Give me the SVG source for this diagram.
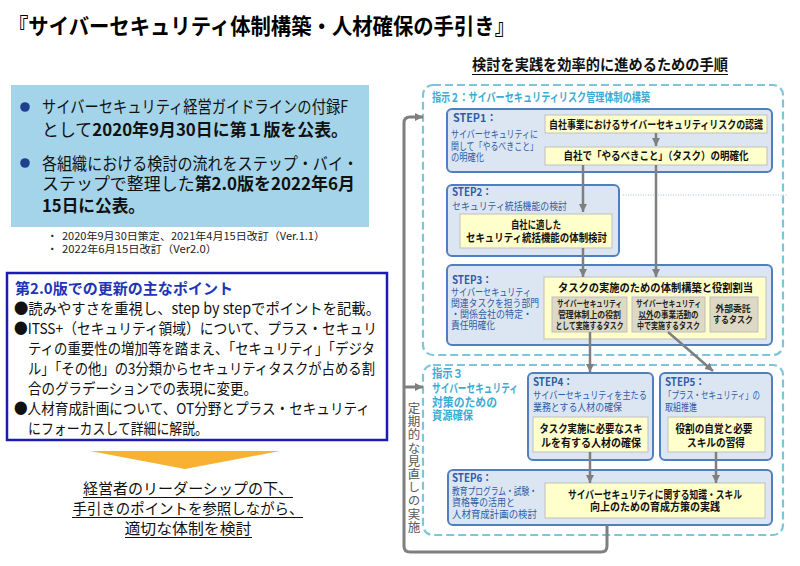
<svg xmlns="http://www.w3.org/2000/svg" width="800" height="566" viewBox="0 0 800 566">
<style>
text { font-family: "Noto Sans CJK JP", "Noto Sans", sans-serif; }
.b { font-weight: bold; }
.step { fill: #DCE6F2; stroke: #4F7FC0; stroke-width: 2; }
.yel { fill: #FFFFCC; stroke: #BFBFBF; stroke-width: 1; }
.tan { fill: #DDD9C4; stroke: #BFBFBF; stroke-width: 1; }
.dash { fill: none; stroke: #7DC6DA; stroke-width: 2.2; stroke-dasharray: 8 4; }
.conn { stroke: #7F7F7F; stroke-width: 2.5; fill: none; }
.loop { stroke: #7F7F7F; stroke-width: 3; fill: none; }
.sl { fill: #2E5DA6; font-size: 10.5px; }
.sh { fill: #2E5DA6; font-size: 11px; font-weight: bold; }
.yt { fill: #111; font-size: 11px; font-weight: bold; }
.tt { fill: #222; font-size: 9px; font-weight: bold; }
.sj { fill: #3AACD4; font-size: 12px; font-weight: bold; }
.lb { fill: #111; font-size: 17px; }
.pt { fill: #111; font-size: 15px; }
.vt { fill: #595959; font-size: 12.5px; writing-mode: vertical-rl; letter-spacing: 0.7px; }
</style>
<defs>
<marker id="ah" viewBox="0 0 10 10" markerWidth="8" markerHeight="8" refX="10" refY="5" orient="auto" markerUnits="userSpaceOnUse">
<path d="M0,0 L10,5 L0,10 z" fill="#7F7F7F"/>
</marker>
</defs>

<!-- Title -->
<text id="title" x="8" y="34" class="b" font-size="22" fill="#000" textLength="507" lengthAdjust="spacingAndGlyphs">『サイバーセキュリティ体制構築・人材確保の手引き』</text>

<!-- Left info box -->
<g id="info">
<rect x="11" y="85" width="358" height="142" fill="#A3D4E9"/>
<circle cx="25" cy="107" r="4.8" fill="#1F3F8F"/>
<circle cx="25" cy="163" r="4.8" fill="#1F3F8F"/>
<text x="42" y="113" class="lb" textLength="306" lengthAdjust="spacingAndGlyphs">サイバーセキュリティ経営ガイドラインの付録F</text>
<text x="42" y="136" class="lb" textLength="306" lengthAdjust="spacingAndGlyphs">として<tspan class="b">2020年9月30日に第１版を公表。</tspan></text>
<text x="42" y="170" class="lb" textLength="316" lengthAdjust="spacingAndGlyphs">各組織における検討の流れをステップ・バイ・</text>
<text x="42" y="190" class="lb" textLength="313" lengthAdjust="spacingAndGlyphs">ステップで整理した<tspan class="b">第2.0版を2022年6月</tspan></text>
<text x="42" y="212" class="lb b" textLength="103" lengthAdjust="spacingAndGlyphs">15日に公表。</text>
</g>

<g id="notes">
<text x="47" y="240" font-size="10.5" fill="#222">・</text>
<text x="62" y="240" font-size="10.5" fill="#222" textLength="263" lengthAdjust="spacingAndGlyphs">2020年9月30日策定、2021年4月15日改訂（Ver.1.1）</text>
<text x="47" y="253" font-size="10.5" fill="#222">・</text>
<text x="62" y="253" font-size="10.5" fill="#222" textLength="155" lengthAdjust="spacingAndGlyphs">2022年6月15日改訂（Ver2.0）</text>
</g>

<!-- Points box -->
<g id="points">
<rect x="7" y="273" width="380" height="167" fill="#FFFFFF" stroke="#1C1CB4" stroke-width="2.5"/>
<text x="15" y="294" class="b" font-size="15" fill="#2034B5" textLength="218" lengthAdjust="spacingAndGlyphs">第2.0版での更新の主なポイント</text>
<text x="14" y="314" class="pt" textLength="366" lengthAdjust="spacingAndGlyphs">●読みやすさを重視し、step by stepでポイントを記載。</text>
<text x="14" y="334" class="pt" textLength="363" lengthAdjust="spacingAndGlyphs">●ITSS+（セキュリティ領域）について、プラス・セキュリ</text>
<text x="28" y="354" class="pt" textLength="347" lengthAdjust="spacingAndGlyphs">ティの重要性の増加等を踏まえ、「セキュリティ」「デジタ</text>
<text x="28" y="374" class="pt" textLength="347" lengthAdjust="spacingAndGlyphs">ル」「その他」の3分類からセキュリティタスクが占める割</text>
<text x="28" y="394" class="pt" textLength="229" lengthAdjust="spacingAndGlyphs">合のグラデーションでの表現に変更。</text>
<text x="14" y="414" class="pt" textLength="356" lengthAdjust="spacingAndGlyphs">●人材育成計画について、OT分野とプラス・セキュリティ</text>
<text x="28" y="434" class="pt" textLength="180" lengthAdjust="spacingAndGlyphs">にフォーカスして詳細に解説。</text>
</g>

<!-- Orange arrow and conclusion -->
<g id="conclusion">
<polygon points="90,451 280,451 185,469" fill="#F8B133"/>
<text x="188" y="494" class="pt" text-anchor="middle" textLength="210" lengthAdjust="spacingAndGlyphs">経営者のリーダーシップの下、</text>
<line x1="83" y1="497.5" x2="293" y2="497.5" stroke="#111" stroke-width="1"/>
<text x="188" y="514" class="pt" text-anchor="middle" textLength="231" lengthAdjust="spacingAndGlyphs">手引きのポイントを参照しながら、</text>
<line x1="72" y1="517.5" x2="303" y2="517.5" stroke="#111" stroke-width="1"/>
<text x="188" y="534" class="pt" text-anchor="middle" textLength="127" lengthAdjust="spacingAndGlyphs">適切な体制を検討</text>
<line x1="125" y1="537.5" x2="252" y2="537.5" stroke="#111" stroke-width="1"/>
</g>

<!-- Right title -->
<g id="right-title">
<text x="600" y="70" class="b" font-size="15" fill="#111" text-anchor="middle" textLength="256" lengthAdjust="spacingAndGlyphs">検討を実践を効率的に進めるための手順</text>
<line x1="472" y1="74.5" x2="728" y2="74.5" stroke="#111" stroke-width="1.2"/>
</g>

<!-- 指示2 -->
<g id="shiji2">
<rect x="423" y="85" width="360" height="270" rx="10" class="dash"/>
<text x="432" y="102" class="sj" font-size="11" textLength="218" lengthAdjust="spacingAndGlyphs">指示２：サイバーセキュリティリスク管理体制の構築</text>
</g>

<!-- 指示3 -->
<g id="shiji3">
<rect x="423" y="365" width="360" height="170" rx="10" class="dash"/>
<text x="432" y="378" class="sj" textLength="31" lengthAdjust="spacingAndGlyphs">指示３</text>
<text x="432" y="393" class="sj" textLength="86" lengthAdjust="spacingAndGlyphs">サイバーセキュリティ</text>
<text x="432" y="407" class="sj" textLength="65" lengthAdjust="spacingAndGlyphs">対策のための</text>
<text x="432" y="420" class="sj" textLength="41" lengthAdjust="spacingAndGlyphs">資源確保</text>
</g>

<!-- STEP1 -->
<g id="step1">
<rect x="447" y="109" width="325" height="63" rx="5" class="step"/>
<text x="453" y="122" class="sh" textLength="44" lengthAdjust="spacingAndGlyphs">STEP1：</text>
<text x="451" y="138" class="sl" textLength="87" lengthAdjust="spacingAndGlyphs">サイバーセキュリティに</text>
<text x="451" y="150" class="sl" textLength="87" lengthAdjust="spacingAndGlyphs">関して「やるべきこと」</text>
<text x="451" y="161" class="sl" textLength="33" lengthAdjust="spacingAndGlyphs">の明確化</text>
</g>
<g id="step1-risk">
<rect x="545" y="115" width="222" height="18" class="yel"/>
<text x="656" y="128.5" class="yt" text-anchor="middle" textLength="214" lengthAdjust="spacingAndGlyphs">自社事業におけるサイバーセキュリティリスクの認識</text>
</g>
<g id="step1-task">
<rect x="545" y="147" width="222" height="18" class="yel"/>
<text x="656" y="160" class="yt" text-anchor="middle" textLength="185" lengthAdjust="spacingAndGlyphs">自社で「やるべきこと」（タスク）の明確化</text>
</g>

<!-- STEP2 -->
<g id="step2">
<rect x="447" y="185" width="172" height="71" rx="5" class="step"/>
<text x="452" y="196" class="sh" textLength="40" lengthAdjust="spacingAndGlyphs">STEP2：</text>
<text x="452" y="210" class="sl" textLength="115" lengthAdjust="spacingAndGlyphs">セキュリティ統括機能の検討</text>
</g>
<g id="step2-func">
<rect x="460" y="214" width="152" height="34" class="yel"/>
<text x="536" y="229" class="yt" font-size="11.5" text-anchor="middle" textLength="50" lengthAdjust="spacingAndGlyphs">自社に適した</text>
<text x="536.5" y="242" class="yt" font-size="11.5" text-anchor="middle" textLength="141" lengthAdjust="spacingAndGlyphs">セキュリティ統括機能の体制検討</text>
</g>
<line x1="623" y1="195" x2="788" y2="195" stroke="#9DC3E6" stroke-width="1" stroke-dasharray="1 1.5"/>

<!-- STEP3 -->
<g id="step3">
<rect x="447" y="265" width="325" height="80" rx="5" class="step"/>
<text x="452" y="284" class="sh" textLength="40" lengthAdjust="spacingAndGlyphs">STEP3：</text>
<text x="451" y="296" class="sl" textLength="80" lengthAdjust="spacingAndGlyphs">サイバーセキュリティ</text>
<text x="451" y="307" class="sl" textLength="88" lengthAdjust="spacingAndGlyphs">関連タスクを担う部門</text>
<text x="451" y="318" class="sl" textLength="81" lengthAdjust="spacingAndGlyphs">・関係会社の特定・</text>
<text x="451" y="328.5" class="sl" textLength="44" lengthAdjust="spacingAndGlyphs">責任明確化</text>
</g>
<g id="step3-build">
<rect x="544" y="277" width="222" height="62" class="yel"/>
<text x="655.5" y="291.5" class="yt" font-size="12" text-anchor="middle" textLength="195" lengthAdjust="spacingAndGlyphs">タスクの実施のための体制構築と役割割当</text>
</g>
<g id="task-mgmt">
<rect x="552" y="297" width="75" height="35" class="tan"/>
<text x="589.5" y="307" class="tt" text-anchor="middle" textLength="65" lengthAdjust="spacingAndGlyphs">サイバーセキュリティ</text>
<text x="589.5" y="318" class="tt" text-anchor="middle" textLength="63" lengthAdjust="spacingAndGlyphs">管理体制上の役割</text>
<text x="589.5" y="328.5" class="tt" text-anchor="middle" textLength="68" lengthAdjust="spacingAndGlyphs">として実施するタスク</text>
</g>
<g id="task-biz">
<rect x="632" y="297" width="73" height="35" class="tan"/>
<text x="668.5" y="307" class="tt" text-anchor="middle" textLength="65" lengthAdjust="spacingAndGlyphs">サイバーセキュリティ</text>
<text x="668.5" y="318" class="tt" text-anchor="middle" textLength="60" lengthAdjust="spacingAndGlyphs"><tspan text-decoration="underline">以外</tspan>の事業活動の</text>
<text x="668.5" y="328.5" class="tt" text-anchor="middle" textLength="63" lengthAdjust="spacingAndGlyphs">中で実施するタスク</text>
</g>
<g id="task-ext">
<rect x="710" y="297" width="48" height="35" class="tan"/>
<text x="733" y="312" class="tt" text-anchor="middle" textLength="35" lengthAdjust="spacingAndGlyphs">外部委託</text>
<text x="733" y="323" class="tt" text-anchor="middle" textLength="40" lengthAdjust="spacingAndGlyphs">するタスク</text>
</g>

<!-- STEP4 -->
<g id="step4">
<rect x="528" y="373" width="125" height="87" rx="5" class="step"/>
<text x="533" y="386" class="sh" textLength="40" lengthAdjust="spacingAndGlyphs">STEP4：</text>
<text x="533" y="399" class="sl" textLength="114" lengthAdjust="spacingAndGlyphs">サイバーセキュリティを主たる</text>
<text x="533" y="411" class="sl" textLength="89" lengthAdjust="spacingAndGlyphs">業務とする人材の確保</text>
</g>
<g id="step4-hr">
<rect x="533" y="417" width="115" height="35" class="yel"/>
<text x="591" y="433" class="yt" font-size="11.5" text-anchor="middle" textLength="103" lengthAdjust="spacingAndGlyphs">タスク実施に必要なスキ</text>
<text x="591" y="447" class="yt" font-size="11.5" text-anchor="middle" textLength="100" lengthAdjust="spacingAndGlyphs">ルを有する人材の確保</text>
</g>

<!-- STEP5 -->
<g id="step5">
<rect x="660" y="373" width="112" height="87" rx="5" class="step"/>
<text x="665" y="386" class="sh" textLength="40" lengthAdjust="spacingAndGlyphs">STEP5：</text>
<text x="664" y="399" class="sl" textLength="96" lengthAdjust="spacingAndGlyphs">「プラス・セキュリティ」の</text>
<text x="665" y="411" class="sl" textLength="32" lengthAdjust="spacingAndGlyphs">取組推進</text>
</g>
<g id="step5-skill">
<rect x="668" y="417" width="97" height="35" class="yel"/>
<text x="714" y="433" class="yt" font-size="11.5" text-anchor="middle" textLength="77" lengthAdjust="spacingAndGlyphs">役割の自覚と必要</text>
<text x="716" y="447" class="yt" font-size="11.5" text-anchor="middle" textLength="58" lengthAdjust="spacingAndGlyphs">スキルの習得</text>
</g>

<!-- STEP6 -->
<g id="step6">
<rect x="448" y="470" width="324" height="55" rx="5" class="step"/>
<text x="452" y="482" class="sh" textLength="40" lengthAdjust="spacingAndGlyphs">STEP6：</text>
<text x="452" y="495" class="sl" textLength="85" lengthAdjust="spacingAndGlyphs">教育プログラム・試験・</text>
<text x="452" y="506" class="sl" textLength="63" lengthAdjust="spacingAndGlyphs">資格等の活用と</text>
<text x="452" y="518" class="sl" textLength="85" lengthAdjust="spacingAndGlyphs">人材育成計画の検討</text>
</g>
<g id="step6-edu">
<rect x="545" y="483" width="220" height="35" class="yel"/>
<text x="655" y="499" class="yt" font-size="12" text-anchor="middle" textLength="174" lengthAdjust="spacingAndGlyphs">サイバーセキュリティに関する知識・スキル</text>
<text x="655" y="511" class="yt" font-size="12" text-anchor="middle" textLength="130" lengthAdjust="spacingAndGlyphs">向上のための育成方策の実践</text>
</g>

<!-- Review label (vertical) -->
<g id="review">
<text x="414" y="402" class="vt">定期的な見直しの実施</text>
</g>

<!-- Connectors -->
<g id="connectors">
<line x1="656" y1="133" x2="656" y2="146" class="conn" marker-end="url(#ah)"/>
<line x1="583" y1="165" x2="583" y2="212" class="conn" marker-end="url(#ah)"/>
<line x1="583" y1="248" x2="583" y2="277" class="conn" marker-end="url(#ah)"/>
<line x1="656" y1="165" x2="656" y2="277" class="conn" marker-end="url(#ah)"/>
<line x1="590" y1="332" x2="590" y2="372" class="conn" marker-end="url(#ah)"/>
<line x1="668" y1="332" x2="713" y2="371" class="conn" marker-end="url(#ah)"/>
<line x1="590" y1="452" x2="590" y2="483" class="conn" marker-end="url(#ah)"/>
<line x1="716" y1="452" x2="716" y2="483" class="conn" marker-end="url(#ah)"/>
<path d="M607,525 V546 Q607,552 601,552 H410 Q404,552 404,546 V123 Q404,117 410,117 H423" class="loop" marker-end="url(#ah)"/>
<path d="M404,387 H423" class="loop" marker-end="url(#ah)"/>
</g>
</svg>
